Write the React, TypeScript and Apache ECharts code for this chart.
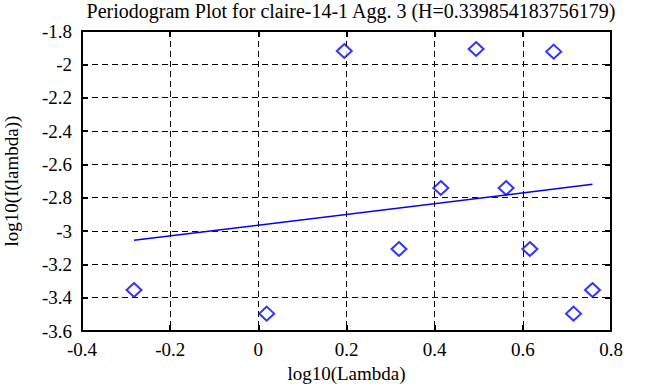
import React, { useEffect, useRef } from "react";
import * as echarts from "echarts";

const titleText = "Periodogram Plot for claire-14-1 Agg. 3 (H=0.339854183756179)";
const xName = "log10(Lambda)";
const yName = "log10(I(lambda))";

const pointX = [-0.282, 0.019, 0.195, 0.319, 0.414, 0.494, 0.562, 0.616, 0.67, 0.715, 0.758];
const pointY = [-3.354, -3.496, -1.92, -3.108, -2.742, -1.908, -2.742, -3.108, -1.924, -3.496, -3.354];

const fitX = [-0.282, 0.758];
const fitY = [-3.056, -2.72];

const FONT = "'Liberation Serif', 'Times New Roman', serif";

export default function App() {
  const ref = useRef<HTMLDivElement>(null);
  useEffect(() => {
    if (!ref.current) return;
    const chart = echarts.init(ref.current, null, { renderer: "svg" });
    const fmt = (v: number) => String(parseFloat(v.toFixed(1)));
    const axisLine = { show: true, onZero: false, lineStyle: { color: "#000", width: 2 } };
    const tick = { show: true, inside: true, length: 6, lineStyle: { color: "#000", width: 2 } };
    const split = { show: true, lineStyle: { color: "#000", width: 1, type: [6, 4] as any } };
    const labelStyle = { color: "#000", fontFamily: FONT, fontSize: 19 };
    chart.setOption({
      animation: false,
      backgroundColor: "#fff",
      textStyle: { fontFamily: FONT },
      title: {
        text: titleText,
        left: 346,
        top: -4,
        textAlign: "center",
        textStyle: { color: "#000", fontFamily: FONT, fontSize: 20, fontWeight: "normal" },
      },
      grid: { left: 82, right: 47, top: 31, bottom: 56, containLabel: false, outerBoundsMode: "none" },
      xAxis: [
        {
          type: "value",
          min: -0.4,
          max: 0.8,
          interval: 0.2,
          position: "bottom",
          axisLine,
          axisTick: tick,
          splitLine: split,
          axisLabel: { ...labelStyle, margin: 9, formatter: fmt },
          name: xName,
          nameLocation: "middle",
          nameGap: 33,
          nameTextStyle: { ...labelStyle, verticalAlign: "top" },
        },
        {
          type: "value",
          min: -0.4,
          max: 0.8,
          interval: 0.2,
          position: "top",
          axisLine,
          axisTick: tick,
          splitLine: { show: false },
          axisLabel: { show: false },
        },
      ],
      yAxis: [
        {
          type: "value",
          min: -3.6,
          max: -1.8,
          interval: 0.2,
          position: "left",
          axisLine,
          axisTick: tick,
          splitLine: split,
          axisLabel: { ...labelStyle, margin: 10, formatter: fmt },
          name: yName,
          nameLocation: "middle",
          nameGap: 61,
          nameTextStyle: { ...labelStyle },
        },
        {
          type: "value",
          min: -3.6,
          max: -1.8,
          interval: 0.2,
          position: "right",
          axisLine,
          axisTick: tick,
          splitLine: { show: false },
          axisLabel: { show: false },
        },
      ],
      series: [
        {
          type: "line",
          xAxisIndex: 0,
          yAxisIndex: 0,
          data: fitX.map((x, i) => [x, fitY[i]]),
          showSymbol: false,
          symbol: "none",
          lineStyle: { color: "#0000ff", width: 1.5 },
        },
        {
          type: "scatter",
          xAxisIndex: 0,
          yAxisIndex: 0,
          data: pointX.map((x, i) => [x, pointY[i]]),
          symbol: "emptyDiamond",
          symbolSize: [15, 14],
          itemStyle: { color: "#0000ff", borderColor: "#0000ff", borderWidth: 1 },
        },
      ],
    });
    return () => chart.dispose();
  }, []);
  return (
    <div
      ref={ref}
      style={{ position: "fixed", left: 0, top: 0, width: 658, height: 387 }}
    />
  );
}
